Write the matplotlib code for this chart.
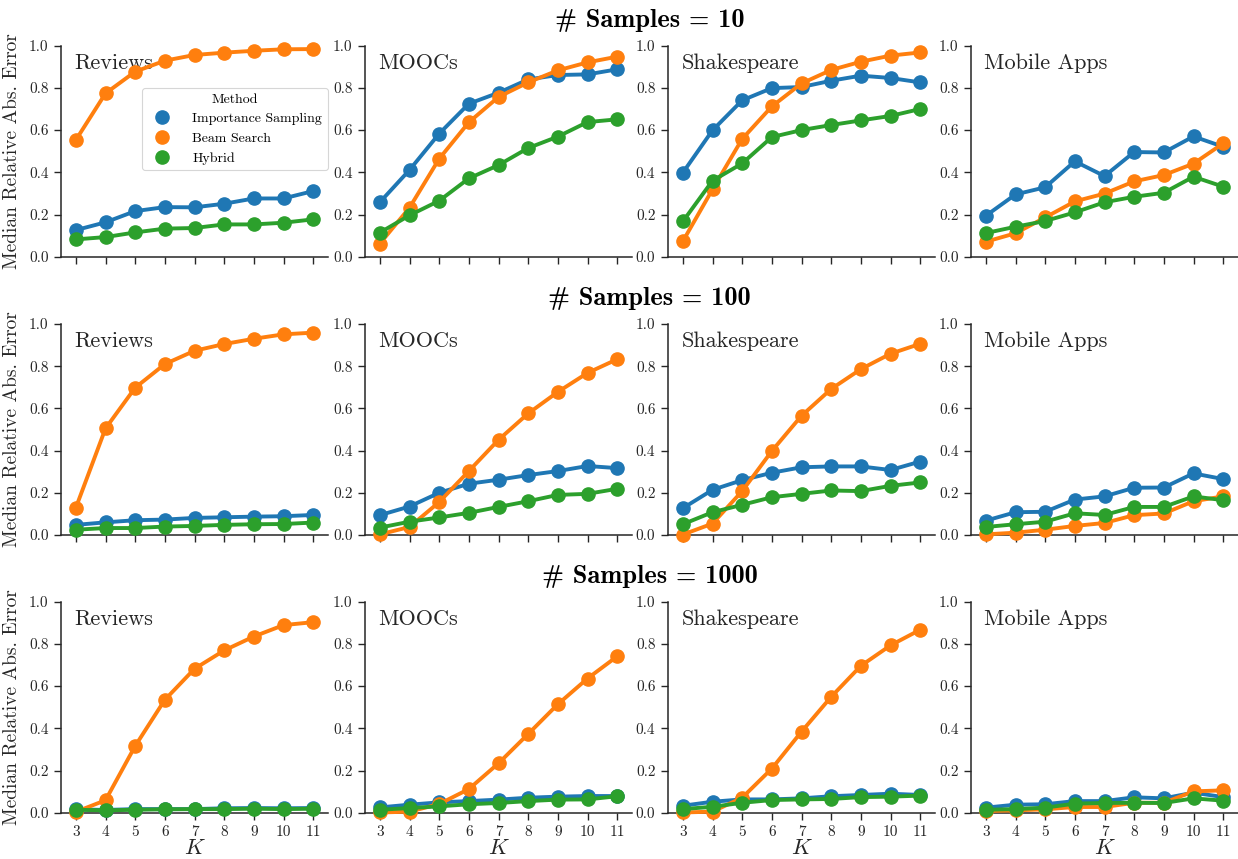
import matplotlib
matplotlib.use("Agg")
import matplotlib.pyplot as plt
from matplotlib.lines import Line2D

plt.rcParams['font.family'] = ['cmr10', 'DejaVu Serif']
plt.rcParams['mathtext.fontset'] = 'cm'
plt.rcParams['axes.formatter.use_mathtext'] = True
plt.rcParams['axes.unicode_minus'] = False

K_values = [3, 4, 5, 6, 7, 8, 9, 10, 11]
datasets = ["Reviews", "MOOCs", "Shakespeare", "Mobile Apps"]
sample_sizes = [10, 100, 1000]
methods = ["Importance Sampling", "Beam Search", "Hybrid"]
colors = ["#1f77b4", "#ff7f0e", "#2ca02c"]

# ---- # Samples = 10 ----
s10_reviews_is = [0.126, 0.163, 0.216, 0.235, 0.234, 0.251, 0.276, 0.276, 0.311]
s10_reviews_bs = [0.553, 0.774, 0.877, 0.929, 0.956, 0.967, 0.976, 0.983, 0.984]
s10_reviews_hy = [0.082, 0.093, 0.115, 0.133, 0.136, 0.153, 0.153, 0.161, 0.177]
s10_moocs_is = [0.258, 0.411, 0.583, 0.725, 0.777, 0.840, 0.861, 0.864, 0.888]
s10_moocs_bs = [0.062, 0.232, 0.464, 0.637, 0.757, 0.826, 0.883, 0.921, 0.948]
s10_moocs_hy = [0.114, 0.196, 0.265, 0.371, 0.434, 0.515, 0.569, 0.638, 0.651]
s10_shake_is = [0.398, 0.599, 0.741, 0.799, 0.804, 0.834, 0.858, 0.847, 0.826]
s10_shake_bs = [0.073, 0.319, 0.558, 0.712, 0.821, 0.885, 0.924, 0.953, 0.968]
s10_shake_hy = [0.167, 0.360, 0.442, 0.567, 0.600, 0.624, 0.646, 0.667, 0.700]
s10_mobile_is = [0.194, 0.295, 0.329, 0.452, 0.382, 0.496, 0.494, 0.570, 0.521]
s10_mobile_bs = [0.071, 0.111, 0.186, 0.262, 0.299, 0.357, 0.387, 0.441, 0.537]
s10_mobile_hy = [0.112, 0.142, 0.169, 0.210, 0.258, 0.284, 0.303, 0.379, 0.332]

# ---- # Samples = 100 ----
s100_reviews_is = [0.048, 0.060, 0.070, 0.073, 0.081, 0.084, 0.087, 0.089, 0.095]
s100_reviews_bs = [0.129, 0.505, 0.698, 0.810, 0.873, 0.905, 0.930, 0.951, 0.959]
s100_reviews_hy = [0.025, 0.033, 0.033, 0.040, 0.043, 0.048, 0.051, 0.052, 0.059]
s100_moocs_is = [0.094, 0.135, 0.200, 0.243, 0.262, 0.284, 0.303, 0.327, 0.317]
s100_moocs_bs = [0.003, 0.038, 0.156, 0.303, 0.451, 0.576, 0.678, 0.768, 0.833]
s100_moocs_hy = [0.035, 0.063, 0.083, 0.105, 0.133, 0.160, 0.190, 0.195, 0.219]
s100_shake_is = [0.127, 0.214, 0.260, 0.295, 0.321, 0.325, 0.325, 0.308, 0.348]
s100_shake_bs = [0.002, 0.054, 0.208, 0.398, 0.565, 0.692, 0.786, 0.859, 0.906]
s100_shake_hy = [0.051, 0.108, 0.143, 0.179, 0.195, 0.211, 0.208, 0.233, 0.249]
s100_mobile_is = [0.068, 0.108, 0.110, 0.168, 0.183, 0.224, 0.225, 0.292, 0.265]
s100_mobile_bs = [0.003, 0.011, 0.025, 0.043, 0.057, 0.094, 0.102, 0.160, 0.183]
s100_mobile_hy = [0.038, 0.051, 0.063, 0.103, 0.095, 0.133, 0.133, 0.183, 0.165]

# ---- # Samples = 1000 ----
s1000_reviews_is = [0.016, 0.013, 0.017, 0.017, 0.017, 0.021, 0.022, 0.021, 0.022]
s1000_reviews_bs = [0.004, 0.059, 0.316, 0.535, 0.682, 0.769, 0.835, 0.889, 0.903]
s1000_reviews_hy = [0.014, 0.011, 0.014, 0.016, 0.017, 0.017, 0.019, 0.017, 0.019]
s1000_moocs_is = [0.025, 0.038, 0.049, 0.055, 0.062, 0.071, 0.076, 0.079, 0.079]
s1000_moocs_bs = [0.001, 0.005, 0.041, 0.112, 0.234, 0.373, 0.514, 0.636, 0.741]
s1000_moocs_hy = [0.014, 0.022, 0.030, 0.040, 0.046, 0.055, 0.062, 0.063, 0.078]
s1000_shake_is = [0.033, 0.052, 0.063, 0.063, 0.068, 0.078, 0.084, 0.090, 0.084]
s1000_shake_bs = [0.001, 0.005, 0.071, 0.209, 0.384, 0.549, 0.696, 0.793, 0.867]
s1000_shake_hy = [0.017, 0.028, 0.047, 0.060, 0.063, 0.065, 0.074, 0.076, 0.081]
s1000_mobile_is = [0.024, 0.038, 0.040, 0.055, 0.055, 0.073, 0.068, 0.095, 0.074]
s1000_mobile_bs = [0.008, 0.011, 0.016, 0.027, 0.027, 0.047, 0.047, 0.101, 0.106]
s1000_mobile_hy = [0.014, 0.017, 0.024, 0.043, 0.046, 0.047, 0.046, 0.068, 0.057]

grid = [
    [(s10_reviews_is, s10_reviews_bs, s10_reviews_hy),
     (s10_moocs_is, s10_moocs_bs, s10_moocs_hy),
     (s10_shake_is, s10_shake_bs, s10_shake_hy),
     (s10_mobile_is, s10_mobile_bs, s10_mobile_hy)],
    [(s100_reviews_is, s100_reviews_bs, s100_reviews_hy),
     (s100_moocs_is, s100_moocs_bs, s100_moocs_hy),
     (s100_shake_is, s100_shake_bs, s100_shake_hy),
     (s100_mobile_is, s100_mobile_bs, s100_mobile_hy)],
    [(s1000_reviews_is, s1000_reviews_bs, s1000_reviews_hy),
     (s1000_moocs_is, s1000_moocs_bs, s1000_moocs_hy),
     (s1000_shake_is, s1000_shake_bs, s1000_shake_hy),
     (s1000_mobile_is, s1000_mobile_bs, s1000_mobile_hy)],
]

W, H = 1238, 859
fig = plt.figure(figsize=(W / 100, H / 100), dpi=100)

col_lefts = [61, 365, 668, 971]
ax_w = 267
row_tops = [45.7, 324, 601.7]
ax_h = 211
dark = "#262626"

positions = list(range(len(K_values)))

for r in range(3):
    for c in range(4):
        ax = fig.add_axes([col_lefts[c] / W, 1 - (row_tops[r] + ax_h) / H,
                           ax_w / W, ax_h / H])
        for m in range(3):
            ax.plot(positions, grid[r][c][m], color=colors[m], lw=2.8,
                    marker='o', ms=9.5, zorder=3 + m, clip_on=False)
        ax.set_xlim(-0.5, len(K_values) - 0.5)
        ax.set_ylim(0, 1)
        ax.set_yticks([0, 0.2, 0.4, 0.6, 0.8, 1.0])
        ax.set_yticklabels(["0.0", "0.2", "0.4", "0.6", "0.8", "1.0"])
        ax.set_xticks(positions)
        if r == 2:
            ax.set_xticklabels([str(k) for k in K_values])
            ax.set_xlabel(r'$K$', fontsize=16, labelpad=0, color=dark)
        else:
            ax.set_xticklabels([])
        for s in ['top', 'right']:
            ax.spines[s].set_visible(False)
        for s in ['left', 'bottom']:
            ax.spines[s].set_color(dark)
            ax.spines[s].set_linewidth(1.1)
        ax.tick_params(axis='both', labelsize=11, colors=dark, length=5,
                       width=1.0, pad=4)
        if c == 0:
            ax.set_ylabel("Median Relative Abs. Error", fontsize=14,
                          color=dark, labelpad=6)
        ax.text(0.05, 0.89, datasets[c], transform=ax.transAxes,
                fontsize=16, va='baseline', ha='left', color=dark)
        if r == 0 and c == 0:
            handles = [Line2D([], [], color=colors[m], marker='o', ls='',
                              ms=9.5) for m in range(3)]
            leg = ax.legend(handles, methods, title="Method", fontsize=10,
                            title_fontsize=10, loc='upper left',
                            bbox_to_anchor=(0.305, 0.80), borderaxespad=0,
                            frameon=True, fancybox=True, handletextpad=1.2,
                            labelspacing=0.5)
            leg.get_frame().set_edgecolor("#cccccc")
            leg.get_frame().set_linewidth(0.8)

title_y = [20, 298, 577]
for r in range(3):
    fig.text(649.5 / W, 1 - title_y[r] / H,
             "# Samples = %d" % sample_sizes[r],
             family=['cmb10', 'DejaVu Serif'], fontweight='normal',
             ha='center', va='center', fontsize=19, color='black')

fig.savefig("out.png", dpi=100)
